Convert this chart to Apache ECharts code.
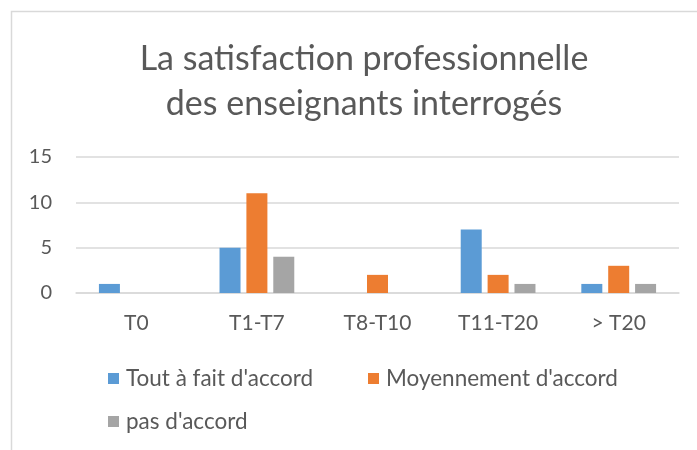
<!DOCTYPE html>
<html>
<head>
<meta charset="utf-8">
<script src="https://cdn.jsdelivr.net/npm/echarts@6/dist/echarts.min.js"></script>
<style>
  html, body { margin: 0; padding: 0; background: #fff; }
  #chart { width: 697px; height: 450px; }
</style>
</head>
<body>
<div id="chart"></div>
<script>
var categories = ['T0', 'T1-T7', 'T8-T10', 'T11-T20', '> T20'];
var seriesNames = ["Tout à fait d'accord", "Moyennement d'accord", "pas d'accord"];
var toutAFait = [1, 5, 0, 7, 1];
var moyennement = [0, 11, 2, 2, 3];
var pasAccord = [0, 4, 0, 1, 1];
var yTicks = [0, 5, 10, 15];

var colors = ['#5b9bd5', '#ed7d31', '#a5a5a5'];
var textColor = '#595959';
var font = 'Lato';

var myChart = window.echarts.init(document.getElementById('chart'));

function makeLegend(name, left, top) {
    return {
        data: [name],
        left: left,
        top: top,
        icon: 'rect',
        itemWidth: 11,
        itemHeight: 11,
        itemGap: 0,
        padding: 0,
        selectedMode: false,
        textStyle: { color: textColor, fontSize: 22.5, fontFamily: font, padding: [0, 0, 0, 2] }
    };
}

var option = {
    animation: false,
    color: colors,
    title: {
        text: 'La satisfaction professionnelle\ndes enseignants interrogés',
        left: 359,
        textAlign: 'center',
        top: 32,
        textStyle: {
            color: textColor,
            fontSize: 34,
            fontWeight: 'normal',
            fontFamily: font,
            lineHeight: 45
        }
    },
    graphic: [{
        type: 'rect',
        shape: { x: 11.5, y: 11.5, width: 720, height: 460 },
        style: { fill: null, stroke: '#d9d9d9', lineWidth: 1.5 },
        silent: true
    }],
    legend: [
        makeLegend(seriesNames[0], 108, 367),
        makeLegend(seriesNames[1], 368, 367),
        makeLegend(seriesNames[2], 108, 410)
    ],
    grid: { left: 76, right: 18, top: 157, bottom: 157 },
    xAxis: {
        type: 'category',
        data: categories,
        axisLine: { show: true, lineStyle: { color: '#d9d9d9', width: 1.5 } },
        axisTick: { show: false },
        axisLabel: { color: textColor, fontSize: 21, fontFamily: font, margin: 20 }
    },
    yAxis: {
        type: 'value',
        min: yTicks[0],
        max: yTicks[yTicks.length - 1],
        interval: 5,
        axisLine: { show: false },
        axisTick: { show: false },
        splitLine: { lineStyle: { color: '#d9d9d9', width: 1.5 } },
        axisLabel: { color: textColor, fontSize: 20, fontFamily: font, margin: 24 }
    },
    series: [
        { name: seriesNames[0], type: 'bar', data: toutAFait, barWidth: 21, barGap: '28%' },
        { name: seriesNames[1], type: 'bar', data: moyennement, barWidth: 21, barGap: '28%' },
        { name: seriesNames[2], type: 'bar', data: pasAccord, barWidth: 21, barGap: '28%' }
    ]
};

myChart.setOption(option);
</script>
</body>
</html>
